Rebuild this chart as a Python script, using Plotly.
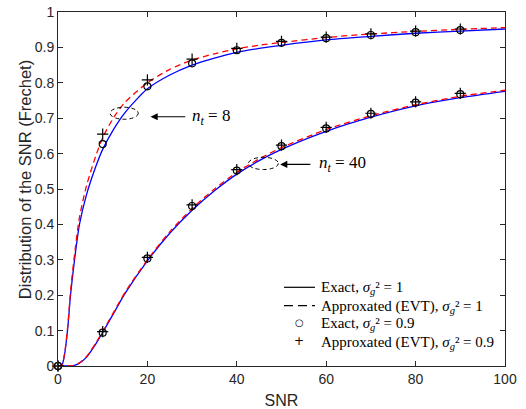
import plotly.graph_objects as go

# ---------------- data ----------------
snr_curve = [0, 0.8, 1.5, 2.2, 2.8, 3.7, 4.8, 6.4, 8.5, 10, 12.5, 15, 20, 25, 30,
             35, 40, 45, 50, 60, 70, 80, 90, 100]

exact_nt8 = [0, 0, 0.035, 0.11, 0.20, 0.30, 0.40, 0.485, 0.565, 0.612, 0.67, 0.716,
             0.783, 0.822, 0.850, 0.870, 0.886, 0.897, 0.906, 0.921, 0.931, 0.940,
             0.946, 0.952]
approx_nt8 = [0, 0, 0.038, 0.115, 0.21, 0.315, 0.42, 0.51, 0.595, 0.645, 0.703,
              0.745, 0.800, 0.838, 0.864, 0.882, 0.896, 0.906, 0.914, 0.928, 0.938,
              0.945, 0.951, 0.956]
exact_nt40 = [0, 0, 0, 0, 0.0005, 0.002, 0.008, 0.025, 0.063, 0.095, 0.150, 0.205,
              0.297, 0.375, 0.440, 0.495, 0.542, 0.580, 0.612, 0.663, 0.703, 0.735,
              0.758, 0.776]
approx_nt40 = [0, 0, 0, 0, 0.0005, 0.002, 0.009, 0.027, 0.066, 0.098, 0.153, 0.208,
               0.300, 0.379, 0.445, 0.500, 0.547, 0.585, 0.617, 0.668, 0.707, 0.738,
               0.762, 0.779]

snr_marker = [0, 10, 20, 30, 40, 50, 60, 70, 80, 90]
exact09_nt8 = [0, 0.627, 0.790, 0.855, 0.892, 0.913, 0.926, 0.935, 0.943, 0.949]
approx09_nt8 = [0, 0.655, 0.808, 0.867, 0.897, 0.917, 0.929, 0.938, 0.946, 0.952]
exact09_nt40 = [0, 0.094, 0.304, 0.452, 0.552, 0.621, 0.671, 0.712, 0.744, 0.768]
approx09_nt40 = [0, 0.097, 0.307, 0.455, 0.555, 0.624, 0.674, 0.714, 0.746, 0.770]

legend_labels = [
    "Exact, <i>σ</i><sub><i>g</i></sub>² = 1",
    "Approxated (EVT), <i>σ</i><sub><i>g</i></sub>² = 1",
    "Exact, <i>σ</i><sub><i>g</i></sub>² = 0.9",
    "Approxated (EVT), <i>σ</i><sub><i>g</i></sub>² = 0.9",
]
x_ticks = [0, 20, 40, 60, 80, 100]
y_ticks = [0, 0.1, 0.2, 0.3, 0.4, 0.5, 0.6, 0.7, 0.8, 0.9, 1]

# ---------------- figure ----------------
fig = go.Figure()
BLUE = "#0000FF"
RED = "#FF0000"
INK = "#262626"
SANS = "Liberation Sans, Arial"
SERIF = "Liberation Serif"

for ys in (exact_nt8, exact_nt40):
    fig.add_trace(go.Scatter(x=snr_curve, y=ys, mode="lines", showlegend=False,
                             line=dict(color=BLUE, width=1.3, shape="spline", smoothing=0.7),
                             hoverinfo="skip"))
for ys in (approx_nt8, approx_nt40):
    fig.add_trace(go.Scatter(x=snr_curve, y=ys, mode="lines", showlegend=False,
                             line=dict(color=RED, width=1.3, dash="6px,4px",
                                       shape="spline", smoothing=0.7),
                             hoverinfo="skip"))
for ys in (exact09_nt8, exact09_nt40):
    fig.add_trace(go.Scatter(x=snr_marker, y=ys, mode="markers", showlegend=False,
                             marker=dict(symbol="circle-open", size=7, color="black",
                                         line=dict(width=1.2)),
                             cliponaxis=False))
for ys in (approx09_nt8, approx09_nt40):
    fig.add_trace(go.Scatter(x=snr_marker, y=ys, mode="markers", showlegend=False,
                             marker=dict(symbol="cross-thin-open", size=8, color="black",
                                         line=dict(width=1.2, color="black")),
                             cliponaxis=False))

# ---------------- legend (drawn in paper coordinates, black samples) ----------------
leg_text_x = 0.584
leg_rows_y = [0.2223, 0.1703, 0.1206, 0.0686]
leg_line_x0, leg_line_x1, leg_sym_x = 0.5056, 0.5749, 0.540
for label, ly in zip(legend_labels, leg_rows_y):
    fig.add_annotation(x=leg_text_x, y=ly, xref="paper", yref="paper", xanchor="left",
                       yanchor="middle", yshift=-1, text=label, showarrow=False,
                       font=dict(family=SERIF, size=15, color="black"))
fig.add_shape(type="line", xref="paper", yref="paper", x0=leg_line_x0, x1=leg_line_x1,
              y0=leg_rows_y[0], y1=leg_rows_y[0], line=dict(color="black", width=1.2))
fig.add_shape(type="line", xref="paper", yref="paper", x0=leg_line_x0, x1=leg_line_x1,
              y0=leg_rows_y[1], y1=leg_rows_y[1],
              line=dict(color="black", width=1.2, dash="9px,5px"))
fig.add_annotation(x=leg_sym_x, y=leg_rows_y[2], xref="paper", yref="paper",
                   xanchor="center", yanchor="middle",
                   text="○", showarrow=False, yshift=1,
                   font=dict(family="DejaVu Sans", size=10, color="black"))
fig.add_annotation(x=leg_sym_x, y=leg_rows_y[3], xref="paper", yref="paper",
                   xanchor="center", yanchor="middle",
                   text="+", showarrow=False, yshift=1,
                   font=dict(family="DejaVu Sans", size=12, color="black"))

# ---------------- ellipses and arrows ----------------
fig.add_shape(type="circle", xref="x", yref="y", x0=11.65, x1=17.95, y0=0.697, y1=0.731,
              line=dict(color="black", width=1, dash="4px,3px"))
fig.add_shape(type="circle", xref="x", yref="y", x0=42.6, x1=49.3, y0=0.555, y1=0.5895,
              line=dict(color="black", width=1, dash="4px,3px"))

fig.add_annotation(x=20.7, y=0.704, ax=28.8, ay=0.704, xref="x", yref="y",
                   axref="x", ayref="y", text="", showarrow=True, arrowhead=2,
                   arrowsize=1.3, arrowwidth=1.1, arrowcolor="black")
fig.add_annotation(x=29.6, y=0.704, xref="x", yref="y", xanchor="left", yanchor="middle",
                   text="<i>n</i><sub><i>t</i></sub> = 8", showarrow=False,
                   font=dict(family=SERIF, size=17, color="black"))
fig.add_annotation(x=49.7, y=0.5695, ax=56.8, ay=0.5695, xref="x", yref="y",
                   axref="x", ayref="y", text="", showarrow=True, arrowhead=2,
                   arrowsize=1.3, arrowwidth=1.1, arrowcolor="black")
fig.add_annotation(x=57.9, y=0.571, xref="x", yref="y", xanchor="left", yanchor="middle",
                   text="<i>n</i><sub><i>t</i></sub> = 40", showarrow=False,
                   font=dict(family=SERIF, size=17, color="black"))

# y-axis title placed close to the tick labels, as in the reference
fig.add_annotation(x=-0.0738, y=0.525, xref="paper", yref="paper", textangle=-90,
                   xanchor="center", yanchor="middle", showarrow=False,
                   text="Distribution of the SNR (Frechet)",
                   font=dict(family=SANS, size=16.5, color=INK))

axis_common = dict(showline=True, linecolor=INK, linewidth=1, mirror="ticks",
                   ticks="inside", ticklen=5, tickcolor=INK, showgrid=False,
                   zeroline=False, automargin=False,
                   tickfont=dict(family=SANS, size=14, color=INK))
fig.update_xaxes(range=[0, 100], tickvals=x_ticks, **axis_common,
                 title=dict(text="SNR", font=dict(family=SANS, size=16, color=INK),
                            standoff=10))
fig.update_yaxes(range=[0, 1], tickvals=y_ticks, **axis_common)

fig.update_layout(
    width=526, height=409,
    margin=dict(l=58, r=21, t=12, b=43),
    paper_bgcolor="white", plot_bgcolor="white",
    showlegend=False,
)

fig.write_html("out.html", config={"displayModeBar": False},
               post_script="document.body.style.margin='0';document.body.style.padding='0';")
